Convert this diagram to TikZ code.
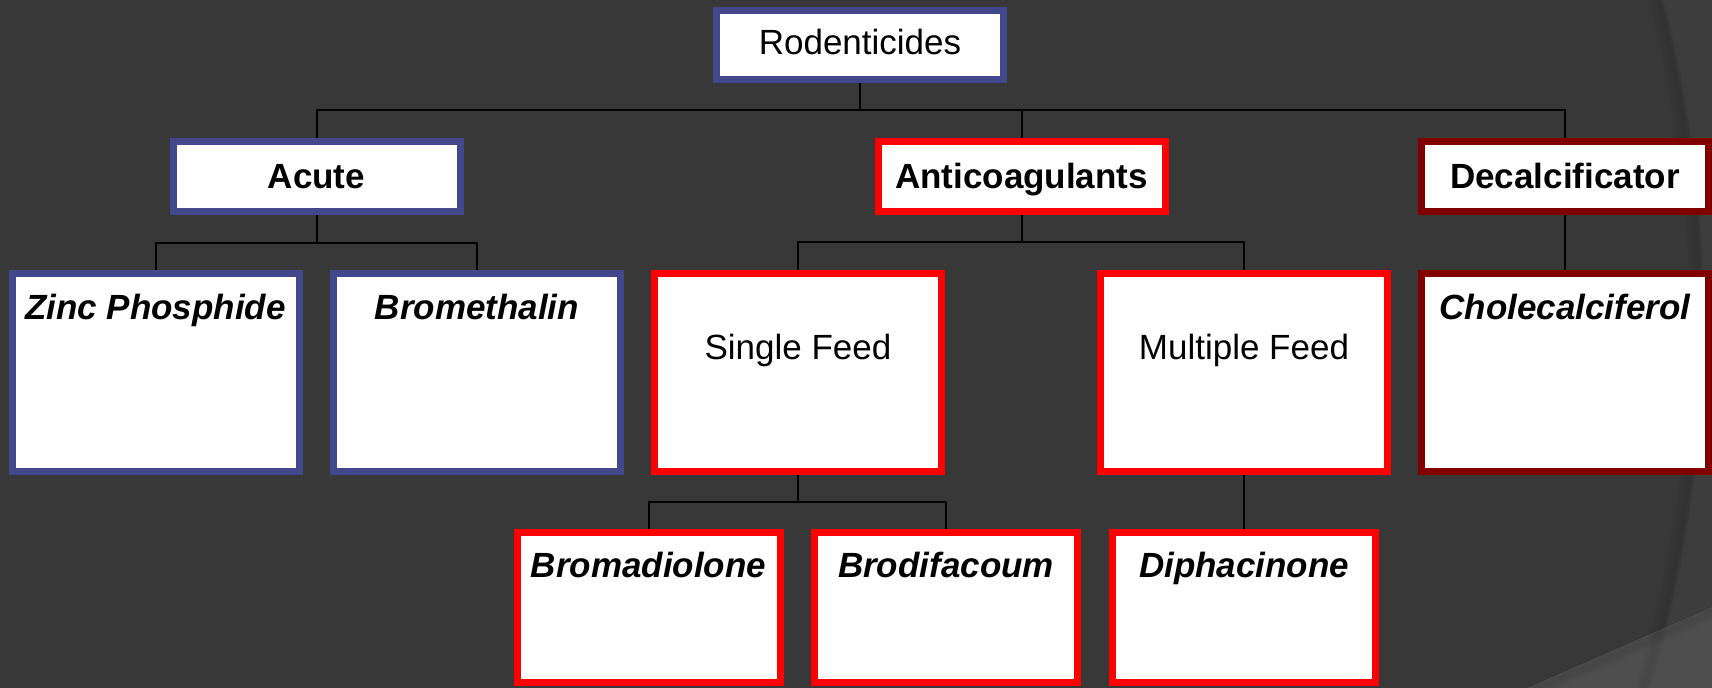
\documentclass[tikz,border=0pt]{standalone}
\usepackage{fontspec}
\setmainfont{Liberation Sans}
\definecolor{bgdark}{RGB}{56,56,56}
\definecolor{bglight}{RGB}{61,61,61}
\definecolor{bgband}{RGB}{78,78,78}
\definecolor{bblue}{RGB}{67,72,140}
\definecolor{bred}{RGB}{255,0,0}
\definecolor{bdred}{RGB}{128,0,0}
\tikzset{
  box/.style={draw, fill=white, line width=3.5pt, inner sep=0pt, outer sep=1.75pt,
    font=\fontsize{17.5pt}{21pt}\selectfont, text=black},
  wide/.style={box, minimum width=143.5pt},
  narrow/.style={box, minimum width=131.5pt},
  rootbox/.style={wide, minimum height=34.5pt, text height=10pt, text depth=0pt},
  hdr/.style={wide, minimum height=35pt, text height=12.5pt, text depth=0pt, font=\fontsize{17.5pt}{21pt}\selectfont\bfseries},
  leaf/.style={wide, text height=23.25pt, text depth=75.75pt, font=\fontsize{17.5pt}{21pt}\selectfont\bfseries\itshape},
  feed/.style={wide, text height=43.25pt, text depth=55.75pt},
  low/.style={narrow, text height=22.75pt, text depth=52.25pt, font=\fontsize{17.5pt}{21pt}\selectfont\bfseries\itshape},
  conn/.style={draw=black, line width=1pt},
}
\begin{document}
\begin{tikzpicture}[x=0.5pt, y=-0.5pt]
\useasboundingbox (0,0) rectangle (1712,688);
\begin{scope}
  \clip (0,0) rectangle (1712,688);
  \fill[bglight] (0,0) rectangle (1712,688);
  \fill[bgdark] (426,320) circle[radius=1277];
  \fill[bgband] (1527,688) -- (1712,607) -- (1712,688) -- cycle;
  \foreach \d/\o in {2/0.05,5/0.04,8/0.03,11/0.02} {
    \draw[black, opacity=\o, line width=3pt] (1527,688+\d) -- (1712,607+\d);
    \draw[black, opacity=\o, line width=3pt] (426,320) circle[radius=1277-\d];
  }
\end{scope}

% boxes
\node[rootbox, draw=bblue] (rod) at (860,45) {Rodenticides};
\node[hdr, draw=bblue] (acute) at (316.5,176.5) {Acute};
\node[hdr, draw=bred] (anti) at (1021.5,176.5) {Anticoagulants};
\node[hdr, draw=bdred] (decal) at (1565,176.5) {Decalcificator};

\node[leaf, draw=bblue] (zinc) at (155.5,372.5) {Zinc Phosphide};
\node[leaf, draw=bblue] (bmt) at (477,372.5) {Bromethalin};
\node[feed, draw=bred] (single) at (798,372.5) {Single Feed};
\node[feed, draw=bred] (multi) at (1244,372.5) {Multiple Feed};
\node[leaf, draw=bdred] (chole) at (1565,372.5) {Cholecalciferol};

\node[low, draw=bred] (bromad) at (648.5,607.5) {Bromadiolone};
\node[low, draw=bred] (brodi) at (946,607.5) {Brodifacoum};
\node[low, draw=bred] (diph) at (1244,607.5) {Diphacinone};

% connectors
\coordinate (bar0) at (860,110);
\coordinate (bar1) at (316.5,243);
\coordinate (bar2) at (1021.5,242);
\coordinate (bar3) at (798,502);

\draw[conn] (rod.south) -- (bar0);
\draw[conn] (acute.north) |- (bar0) -| (decal.north);
\draw[conn] (anti.north) -- (anti.north |- bar0);

\draw[conn] (acute.south) -- (bar1);
\draw[conn] (zinc.north) |- (bar1) -| (bmt.north);

\draw[conn] (anti.south) -- (bar2);
\draw[conn] (single.north) |- (bar2) -| (multi.north);

\draw[conn] (decal.south) -- (chole.north);

\draw[conn] (single.south) -- (bar3);
\draw[conn] (bromad.north) |- (bar3) -| (brodi.north);

\draw[conn] (multi.south) -- (diph.north);
\end{tikzpicture}
\end{document}
